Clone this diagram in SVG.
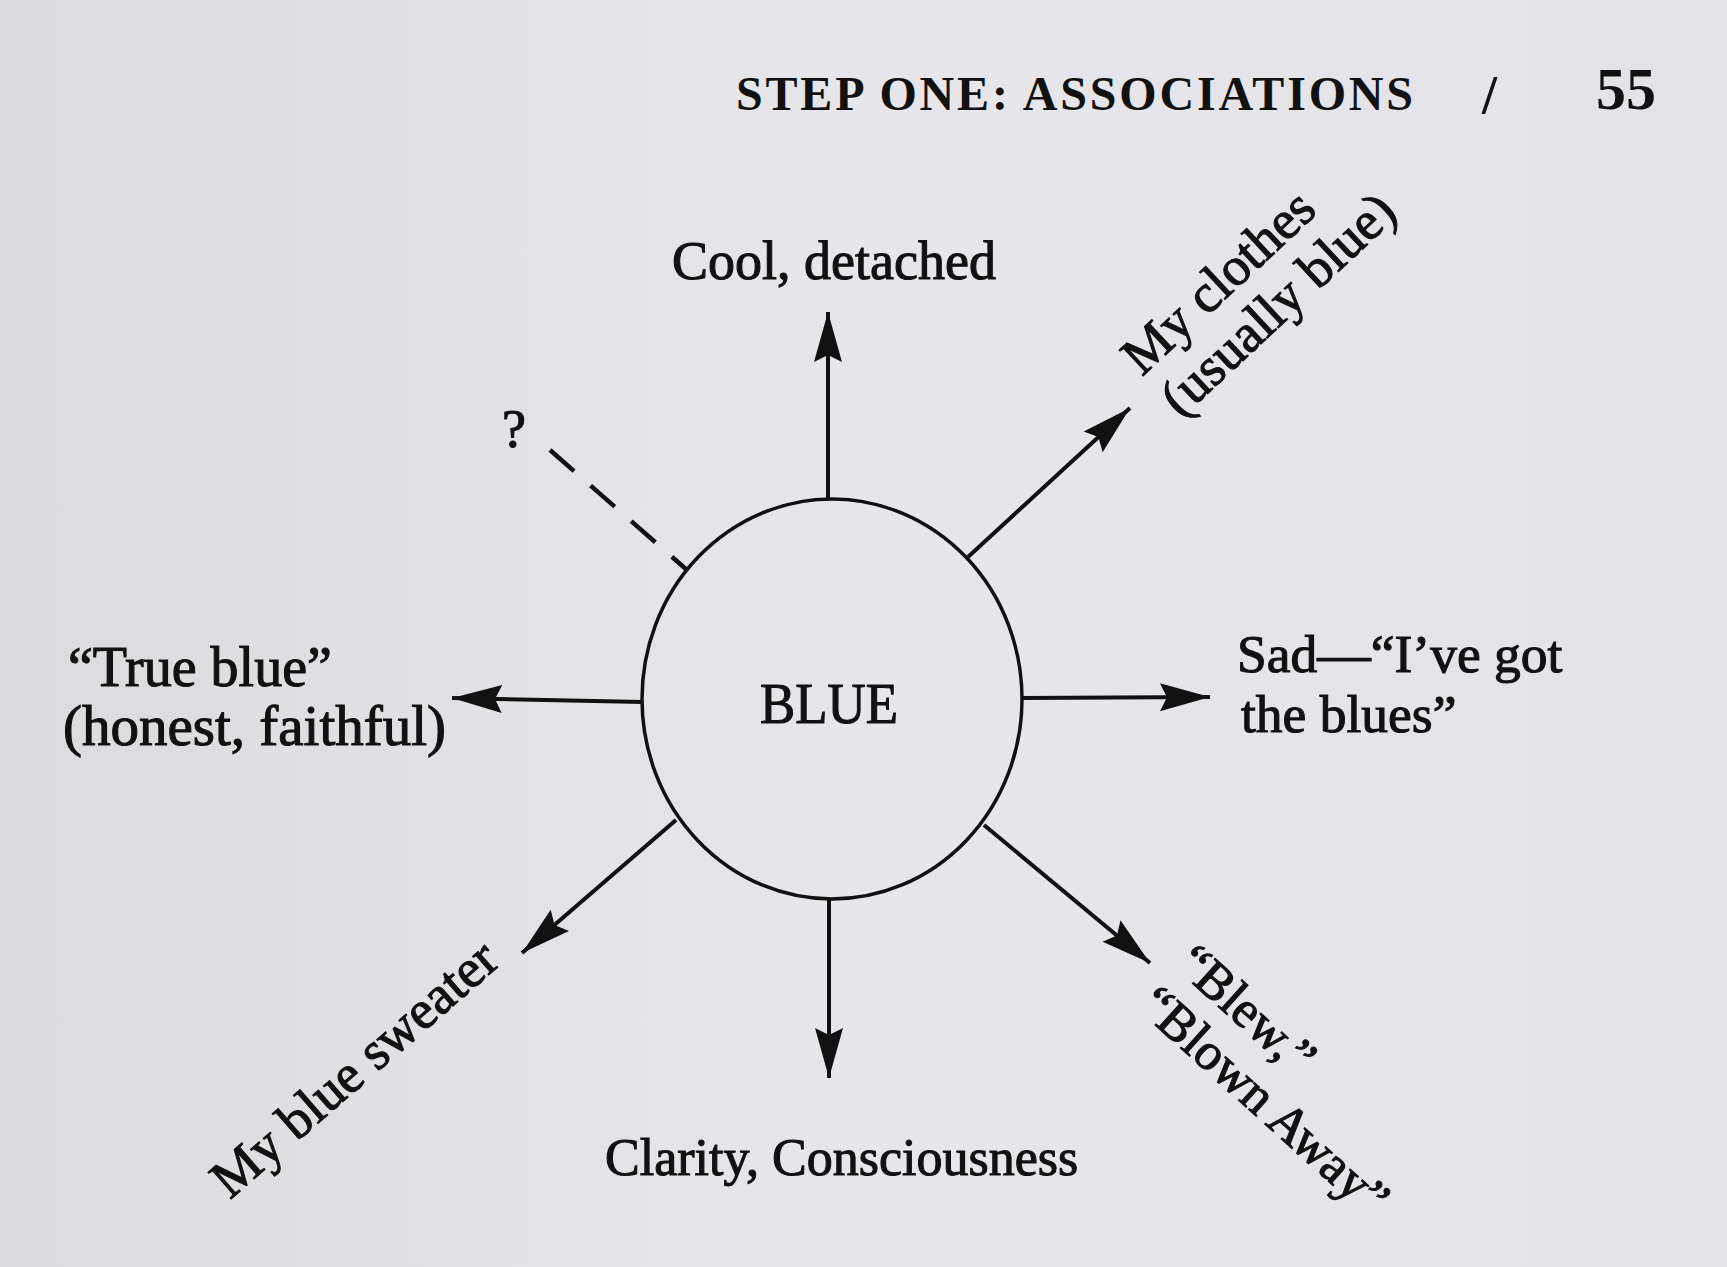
<svg xmlns="http://www.w3.org/2000/svg" width="1727" height="1267" viewBox="0 0 1727 1267">
  <defs>
    <linearGradient id="paper" x1="0" y1="0" x2="1" y2="0">
      <stop offset="0" stop-color="#dbdbde"/>
      <stop offset="0.5" stop-color="#e7e6ea"/>
      <stop offset="1" stop-color="#e3e3e7"/>
    </linearGradient>
    <marker id="head" viewBox="-52 -16 54 32" refX="0" refY="0" markerWidth="54" markerHeight="32" markerUnits="userSpaceOnUse" orient="auto">
      <path d="M0,0 L-50,-14 L-43,0 L-50,14 Z" fill="#111"/>
    </marker>
    <style>
      .lbl { font-family: "Liberation Serif", "Times New Roman", serif; fill: #111; stroke: #111; stroke-width: 1.1; }
      .hdr { font-family: "Liberation Serif", "Times New Roman", serif; fill: #111; font-weight: bold; }
      .arrow { stroke: #111; stroke-width: 4; fill: none; marker-end: url(#head); }
      .dash { stroke: #111; stroke-width: 4.5; fill: none; stroke-dasharray: 32 22; }
    </style>
  </defs>

  <rect x="0" y="0" width="1727" height="1267" fill="url(#paper)"/>

  <g id="header">
    <text class="hdr" x="736" y="110" font-size="48" textLength="677" lengthAdjust="spacing">STEP ONE: ASSOCIATIONS</text>
    <text class="hdr" x="1482" y="113" font-size="54">/</text>
    <text class="hdr" x="1596" y="109" font-size="60">55</text>
  </g>

  <g id="connectors">
    <line class="arrow" x1="828" y1="499" x2="828" y2="312"/>
    <line class="arrow" x1="968" y1="557" x2="1130" y2="408"/>
    <line class="arrow" x1="1022" y1="698" x2="1210" y2="697"/>
    <line class="arrow" x1="984" y1="825" x2="1150" y2="963"/>
    <line class="arrow" x1="829" y1="899" x2="829" y2="1078"/>
    <line class="arrow" x1="676" y1="820" x2="522" y2="953"/>
    <line class="arrow" x1="643" y1="702" x2="452" y2="698"/>
    <line class="dash" x1="550" y1="450" x2="687" y2="570"/>
  </g>

  <g id="node-blue">
    <ellipse cx="832" cy="699" rx="190" ry="200" fill="none" stroke="#111" stroke-width="3.5"/>
    <text class="lbl" x="829" y="723" font-size="57" text-anchor="middle" textLength="138" lengthAdjust="spacingAndGlyphs">BLUE</text>
  </g>

  <g id="node-cool">
    <text class="lbl" x="672" y="279" font-size="54">Cool, detached</text>
  </g>

  <g id="node-clothes" transform="translate(1142,377) rotate(-43)">
    <text class="lbl" x="0" y="0" font-size="54">My clothes</text>
    <text class="lbl" x="0" y="57" font-size="54">(usually blue)</text>
  </g>

  <g id="node-sad">
    <text class="lbl" x="1237" y="672" font-size="53.5">Sad—“I’ve got</text>
    <text class="lbl" x="1241" y="732" font-size="53.5">the blues”</text>
  </g>

  <g id="node-blew" transform="translate(1174,967) rotate(42)">
    <text class="lbl" x="0" y="0" font-size="52">“Blew,”</text>
    <text class="lbl" x="0" y="56" font-size="52">“Blown Away”</text>
  </g>

  <g id="node-clarity">
    <text class="lbl" x="605" y="1175" font-size="52">Clarity, Consciousness</text>
  </g>

  <g id="node-sweater" transform="translate(230,1200) rotate(-41)">
    <text class="lbl" x="0" y="0" font-size="54">My blue sweater</text>
  </g>

  <g id="node-trueblue">
    <text class="lbl" x="68" y="686" font-size="56">“True blue”</text>
    <text class="lbl" x="63" y="745" font-size="57">(honest, faithful)</text>
  </g>

  <g id="node-question">
    <text class="lbl" x="502" y="447" font-size="54">?</text>
  </g>
</svg>
